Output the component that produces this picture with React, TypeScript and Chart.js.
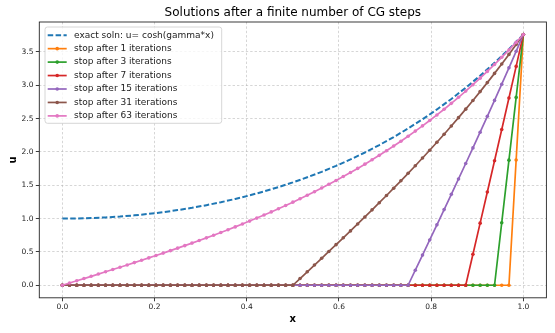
import React, { useEffect, useRef } from 'react';
import { Chart, registerables } from 'chart.js';

Chart.register(...registerables);

const titleText = 'Solutions after a finite number of CG steps';
const xLabel = 'x';
const yLabel = 'u';

const xTicks = [0, 0.2, 0.4, 0.6, 0.8, 1.0];
const yTicks = [0, 0.5, 1.0, 1.5, 2.0, 2.5, 3.0, 3.5];

// grid points x_i = i/64
const xGrid = [
  0, 0.015625, 0.03125, 0.046875, 0.0625, 0.078125, 0.09375, 0.109375, 0.125, 0.140625, 0.15625, 0.171875, 0.1875, 0.203125, 0.21875, 0.234375,
  0.25, 0.265625, 0.28125, 0.296875, 0.3125, 0.328125, 0.34375, 0.359375, 0.375, 0.390625, 0.40625, 0.421875, 0.4375, 0.453125, 0.46875, 0.484375,
  0.5, 0.515625, 0.53125, 0.546875, 0.5625, 0.578125, 0.59375, 0.609375, 0.625, 0.640625, 0.65625, 0.671875, 0.6875, 0.703125, 0.71875, 0.734375,
  0.75, 0.765625, 0.78125, 0.796875, 0.8125, 0.828125, 0.84375, 0.859375, 0.875, 0.890625, 0.90625, 0.921875, 0.9375, 0.953125, 0.96875, 0.984375,
  1,
];

// exact solution sampled at every other grid point
const exactX = xGrid.filter((_, i) => i % 2 === 0);
const exactU = [
  1.000, 1.002, 1.008, 1.018, 1.031, 1.049, 1.071, 1.097, 1.128, 1.162, 1.202, 1.246, 1.295, 1.349, 1.408, 1.473,
  1.543, 1.620, 1.702, 1.792, 1.888, 1.992, 2.104, 2.224, 2.352, 2.490, 2.638, 2.795, 2.964, 3.144, 3.337, 3.543,
  3.762,
];

const stop1 = [
  0, 0, 0, 0, 0, 0, 0, 0, 0, 0, 0, 0, 0, 0, 0, 0,
  0, 0, 0, 0, 0, 0, 0, 0, 0, 0, 0, 0, 0, 0, 0, 0,
  0, 0, 0, 0, 0, 0, 0, 0, 0, 0, 0, 0, 0, 0, 0, 0,
  0, 0, 0, 0, 0, 0, 0, 0, 0, 0, 0, 0, 0, 0, 0, 1.8801,
  3.762,
];
const stop3 = [
  0, 0, 0, 0, 0, 0, 0, 0, 0, 0, 0, 0, 0, 0, 0, 0,
  0, 0, 0, 0, 0, 0, 0, 0, 0, 0, 0, 0, 0, 0, 0, 0,
  0, 0, 0, 0, 0, 0, 0, 0, 0, 0, 0, 0, 0, 0, 0, 0,
  0, 0, 0, 0, 0, 0, 0, 0, 0, 0, 0, 0, 0, 0.9384, 1.8776, 2.8185,
  3.762,
];
const stop7 = [
  0, 0, 0, 0, 0, 0, 0, 0, 0, 0, 0, 0, 0, 0, 0, 0,
  0, 0, 0, 0, 0, 0, 0, 0, 0, 0, 0, 0, 0, 0, 0, 0,
  0, 0, 0, 0, 0, 0, 0, 0, 0, 0, 0, 0, 0, 0, 0, 0,
  0, 0, 0, 0, 0, 0, 0, 0, 0, 0.4658, 0.9319, 1.3990, 1.8673, 2.3373, 2.8095, 3.2842,
  3.762,
];
const stop15 = [
  0, 0, 0, 0, 0, 0, 0, 0, 0, 0, 0, 0, 0, 0, 0, 0,
  0, 0, 0, 0, 0, 0, 0, 0, 0, 0, 0, 0, 0, 0, 0, 0,
  0, 0, 0, 0, 0, 0, 0, 0, 0, 0, 0, 0, 0, 0, 0, 0,
  0, 0.2262, 0.4526, 0.6794, 0.9068, 1.1351, 1.3644, 1.5950, 1.8270, 2.0607, 2.2963, 2.5341, 2.7741, 3.0167, 3.2620, 3.5104,
  3.762,
];
const stop31 = [
  0, 0, 0, 0, 0, 0, 0, 0, 0, 0, 0, 0, 0, 0, 0, 0,
  0, 0, 0, 0, 0, 0, 0, 0, 0, 0, 0, 0, 0, 0, 0, 0,
  0, 0.1010, 0.2021, 0.3033, 0.4049, 0.5068, 0.6092, 0.7121, 0.8157, 0.9200, 1.0252, 1.1313, 1.2385, 1.3468, 1.4564, 1.5673,
  1.6796, 1.7934, 1.9089, 2.0262, 2.1453, 2.2665, 2.3896, 2.5150, 2.6427, 2.7728, 2.9055, 3.0408, 3.1789, 3.3200, 3.4641, 3.6114,
  3.762,
];
const stop63 = [
  0, 0.0335, 0.0670, 0.1005, 0.1342, 0.1680, 0.2019, 0.2360, 0.2704, 0.3049, 0.3398, 0.3750, 0.4105, 0.4464, 0.4827, 0.5195,
  0.5567, 0.5944, 0.6327, 0.6716, 0.7111, 0.7512, 0.7920, 0.8336, 0.8759, 0.9191, 0.9630, 1.0079, 1.0537, 1.1004, 1.1482, 1.1970,
  1.2469, 1.2980, 1.3502, 1.4037, 1.4585, 1.5147, 1.5722, 1.6311, 1.6916, 1.7536, 1.8173, 1.8825, 1.9496, 2.0184, 2.0891, 2.1617,
  2.2363, 2.3129, 2.3917, 2.4726, 2.5558, 2.6414, 2.7294, 2.8199, 2.9131, 3.0088, 3.1074, 3.2088, 3.3131, 3.4205, 3.5311, 3.6449,
  3.762,
];

const exactLabel = 'exact soln: u= cosh(gamma*x)';
const cgLabels = [
  'stop after 1 iterations',
  'stop after 3 iterations',
  'stop after 7 iterations',
  'stop after 15 iterations',
  'stop after 31 iterations',
  'stop after 63 iterations',
];
const cgSeries = [stop1, stop3, stop7, stop15, stop31, stop63];
const exactColor = '#1f77b4';
const cgColors = ['#ff7f0e', '#2ca02c', '#d62728', '#9467bd', '#8c564b', '#e377c2'];

const FONT = '"DejaVu Sans", "Liberation Sans", sans-serif';

const decorPlugin = {
  id: 'decor',
  afterDraw(chart: any) {
    const { ctx, chartArea: a } = chart;
    ctx.save();
    // axes frame
    ctx.strokeStyle = '#262626';
    ctx.lineWidth = 0.9;
    ctx.setLineDash([]);
    ctx.strokeRect(a.left, a.top, a.right - a.left, a.bottom - a.top);
    // title
    ctx.fillStyle = '#000';
    ctx.font = `12px ${FONT}`;
    ctx.textAlign = 'center';
    ctx.textBaseline = 'middle';
    ctx.fillText(titleText, (a.left + a.right) / 2, 13);

    // legend
    const bx = 45, by = 27, bw = 176.7, bh = 96.3;
    ctx.beginPath();
    if (ctx.roundRect) ctx.roundRect(bx, by, bw, bh, 2.5);
    else ctx.rect(bx, by, bw, bh);
    ctx.fillStyle = 'rgba(255,255,255,0.8)';
    ctx.fill();
    ctx.strokeStyle = '#cccccc';
    ctx.lineWidth = 0.8;
    ctx.stroke();

    const rowY0 = 35.2, rowStep = 13.45;
    const hx0 = 47.7, hx1 = 66.7, tx = 74;
    ctx.font = `9px ${FONT}`;
    ctx.textAlign = 'left';
    ctx.textBaseline = 'middle';
    chart.data.datasets.forEach((ds: any, i: number) => {
      const y = rowY0 + i * rowStep;
      ctx.strokeStyle = ds.borderColor;
      ctx.lineWidth = ds.borderWidth;
      ctx.setLineDash(ds.borderDash || []);
      ctx.beginPath();
      ctx.moveTo(hx0, y);
      ctx.lineTo(hx1, y);
      ctx.stroke();
      ctx.setLineDash([]);
      if (ds.pointRadius > 0) {
        ctx.fillStyle = ds.borderColor;
        ctx.beginPath();
        ctx.arc((hx0 + hx1) / 2, y, ds.pointRadius, 0, Math.PI * 2);
        ctx.fill();
      }
      ctx.fillStyle = '#222';
      ctx.fillText(ds.label, tx, y);
    });
    ctx.restore();
  },
};

export default function App() {
  const canvasRef = useRef<HTMLCanvasElement | null>(null);

  useEffect(() => {
    const canvas = canvasRef.current;
    if (!canvas) return;

    const datasets: any[] = [
      {
        label: exactLabel,
        data: exactX.map((x, i) => ({ x, y: exactU[i] })),
        borderColor: exactColor,
        backgroundColor: exactColor,
        borderWidth: 2,
        borderDash: [5.5, 2.4],
        pointRadius: 0,
        order: 7,
      },
      ...cgSeries.map((s, k) => ({
        label: cgLabels[k],
        data: xGrid.map((x, i) => ({ x, y: s[i] })),
        borderColor: cgColors[k],
        backgroundColor: cgColors[k],
        pointBackgroundColor: cgColors[k],
        pointBorderWidth: 0,
        borderWidth: 1.7,
        pointRadius: 1.8,
        pointHoverRadius: 1.8,
        order: 6 - k,
      })),
    ];

    const gridCommon = {
      color: 'rgba(176,176,176,0.75)',
      lineWidth: 0.7,
      drawTicks: true,
      tickLength: 3.5,
      tickColor: '#262626',
      tickWidth: 0.9,
      tickBorderDash: [],
      borderDash: [2.4, 2],
    };

    const chart = new Chart(canvas, {
      type: 'line',
      data: { datasets },
      plugins: [decorPlugin],
      options: {
        animation: false,
        responsive: false,
        devicePixelRatio: 1,
        layout: { padding: { top: 22, right: 8.6, left: 0, bottom: 0 } },
        plugins: {
          legend: { display: false },
          tooltip: { enabled: false },
          title: { display: false },
        },
        scales: {
          x: {
            type: 'linear',
            min: -0.05,
            max: 1.05,
            afterBuildTicks: (scale: any) => {
              scale.ticks = xTicks.map((v) => ({ value: v }));
            },
            afterFit: (scale: any) => {
              scale.height = 35.2;
            },
            grid: gridCommon,
            border: { display: false, dash: [2.4, 2] },
            ticks: {
              font: { family: FONT, size: 7.5 },
              color: '#222',
              padding: 1,
              maxRotation: 0,
              callback: (v: any) => Number(v).toFixed(1),
            },
            title: {
              display: true,
              text: xLabel,
              font: { family: FONT, size: 10, weight: 'bold' },
              color: '#000',
              padding: { top: 0, bottom: 8 },
            },
          },
          y: {
            type: 'linear',
            min: -0.1881,
            max: 3.9501,
            afterBuildTicks: (scale: any) => {
              scale.ticks = yTicks.map((v) => ({ value: v }));
            },
            afterFit: (scale: any) => {
              scale.width = 39.3;
            },
            grid: gridCommon,
            border: { display: false, dash: [2.4, 2] },
            ticks: {
              font: { family: FONT, size: 7.5 },
              color: '#222',
              padding: 2.4,
              callback: (v: any) => Number(v).toFixed(1),
            },
            title: {
              display: true,
              text: yLabel,
              font: { family: FONT, size: 10, weight: 'bold' },
              color: '#000',
              padding: { top: 7, bottom: 0 },
            },
          },
        },
      } as any,
    });

    return () => chart.destroy();
  }, []);

  return (
    <div style={{ position: 'absolute', left: 0, top: 0, width: 555, height: 333, background: '#fff' }}>
      <canvas ref={canvasRef} width={555} height={333} style={{ display: 'block' }} />
    </div>
  );
}
